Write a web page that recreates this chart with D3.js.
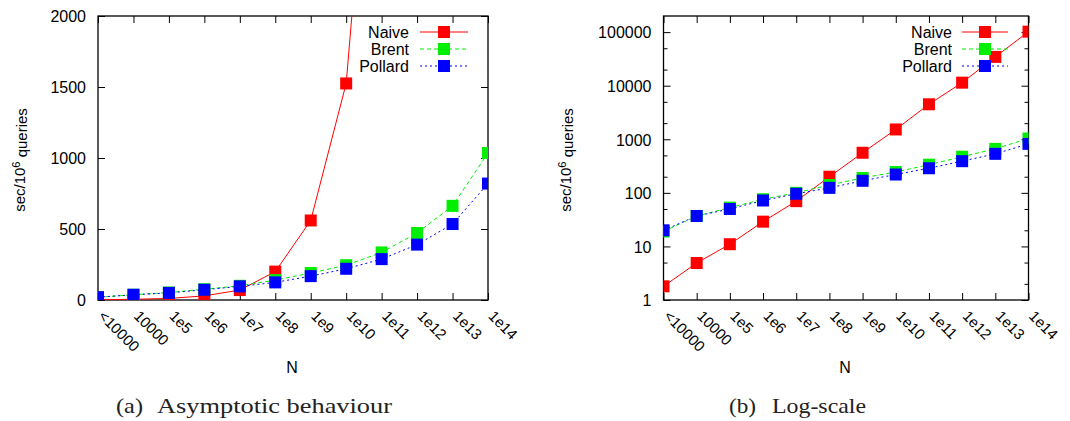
<!DOCTYPE html>
<html>
<head>
<meta charset="utf-8">
<script src="https://cdn.jsdelivr.net/npm/d3@7"></script>
<style>
  html, body { margin: 0; padding: 0; background: #fff; }
  svg { display: block; }
  text { font-family: "Liberation Sans", Arial, Helvetica, sans-serif; fill: #000; }
</style>
</head>
<body>
<svg id="chart" width="1070" height="421"></svg>
<script>
// ---- data ----
const categories = ["<10000", "10000", "1e5", "1e6", "1e7", "1e8", "1e9", "1e10", "1e11", "1e12", "1e13", "1e14"];
const naive   = [1.8, 4.9, 11, 29, 70, 200, 560, 1525, 4500, 11400, 34500, 102000];
const brent   = [19, 37, 53, 76, 100, 140, 190, 245, 335, 472, 663, 1035];
const pollard = [20, 37, 50, 72, 96, 124, 168, 220, 288, 390, 535, 820];
const seriesNames = ["Naive", "Brent", "Pollard"];
const linearTicks = [0, 500, 1000, 1500, 2000];
const logTicks = [1, 10, 100, 1000, 10000, 100000];
const logMinorTicks = [2, 5, 20, 50, 200, 500, 2000, 5000, 20000, 50000];
const captionsTag = ["(a)", "(b)"];
const captionsText = ["Asymptotic behaviour", "Log-scale"];

const series = [
  { name: seriesNames[0], values: naive,   color: "#ff0000", dash: null },
  { name: seriesNames[1], values: brent,   color: "#00ee00", dash: "4,3" },
  { name: seriesNames[2], values: pollard, color: "#0000ff", dash: "2,3" }
];

const svg = d3.select("#chart");
const yTop = 16, yBot = 300;

const panels = [
  { id: "a", x0: 98, x1: 488, log: false, ylabX: 25, legendTextX: 409, legendL: 420, legendR: 468,
    capTagX: 116, capTextX: 157, capTextW: 235 },
  { id: "b", x0: 663.5, x1: 1028.5, log: true, ylabX: 571, legendTextX: 952, legendL: 962, legendR: 1008,
    capTagX: 729, capTextX: 772, capTextW: 94 }
];

panels.forEach((p, pi) => {
  const x = d3.scalePoint().domain(categories).range([p.x0, p.x1]);
  const y = p.log
    ? d3.scaleLog().domain([1, 200000]).range([yBot, yTop])
    : d3.scaleLinear().domain([0, 2000]).range([yBot, yTop]);

  const g = svg.append("g");

  // clip
  svg.append("clipPath").attr("id", "clip" + p.id)
    .append("rect").attr("x", p.x0).attr("y", yTop).attr("width", p.x1 - p.x0).attr("height", yBot - yTop);

  // axes
  const yTicks = p.log ? logTicks : linearTicks;
  const fmt = d => String(d);
  const left = g.append("g").attr("transform", `translate(${p.x0},0)`)
    .call(d3.axisLeft(y).tickValues(yTicks).tickFormat(fmt).tickSizeInner(-7).tickSizeOuter(0).tickPadding(12));
  left.selectAll("text").style("font-size", "16px").attr("dy", "0.36em");
  g.append("g").attr("transform", `translate(${p.x1},0)`)
    .call(d3.axisRight(y).tickValues(yTicks).tickFormat("").tickSizeInner(-7).tickSizeOuter(0));
  if (p.log) {
    g.append("g").attr("transform", `translate(${p.x0},0)`)
      .call(d3.axisLeft(y).tickValues(logMinorTicks).tickFormat("").tickSizeInner(-4).tickSizeOuter(0));
    g.append("g").attr("transform", `translate(${p.x1},0)`)
      .call(d3.axisRight(y).tickValues(logMinorTicks).tickFormat("").tickSizeInner(-4).tickSizeOuter(0));
  }
  const bot = g.append("g").attr("transform", `translate(0,${yBot})`)
    .call(d3.axisBottom(x).tickSizeInner(-7).tickSizeOuter(0));
  bot.selectAll("text")
    .attr("y", null).attr("dy", null)
    .attr("text-anchor", "start")
    .style("font-size", "15px")
    .attr("transform", "translate(-1,17) rotate(45)");
  g.append("g").attr("transform", `translate(0,${yTop})`)
    .call(d3.axisTop(x).tickFormat("").tickSizeInner(-7).tickSizeOuter(0));
  g.selectAll(".domain").remove();
  g.selectAll(".tick line").attr("stroke", "#000").attr("stroke-width", 1);

  // frame
  g.append("rect").attr("x", p.x0).attr("y", yTop).attr("width", p.x1 - p.x0).attr("height", yBot - yTop)
    .attr("fill", "none").attr("stroke", "#000").attr("stroke-width", 1.3);

  // axis titles
  const yl = g.append("text")
    .attr("transform", `translate(${p.ylabX},${(yTop + yBot) / 2 + 2}) rotate(-90)`)
    .attr("text-anchor", "middle").style("font-size", "15px");
  yl.append("tspan").text("sec/10");
  yl.append("tspan").attr("dy", "-0.45em").style("font-size", "11px").text("6");
  yl.append("tspan").attr("dy", "0.45em").text(" queries");

  g.append("text").attr("x", (p.x0 + p.x1) / 2 - 1).attr("y", 373)
    .attr("text-anchor", "middle").style("font-size", "16px").text("N");

  // series with legend (gnuplot order: key sample then data)
  const line = d3.line().x((d, i) => x(categories[i])).y(d => y(d));
  const ms = 12;
  series.forEach((s, si) => {
    const ly = 32 + si * 17;
    const kg = g.append("g");
    kg.append("text").attr("x", p.legendTextX).attr("y", ly).attr("dy", "0.36em")
      .attr("text-anchor", "end").style("font-size", "16px").text(s.name);
    kg.append("line").attr("x1", p.legendL).attr("x2", p.legendR).attr("y1", ly).attr("y2", ly)
      .attr("stroke", s.color).attr("stroke-width", 1).attr("stroke-dasharray", s.dash);
    const mx = (p.legendL + p.legendR) / 2;
    kg.append("rect").attr("x", mx - ms / 2).attr("y", ly - ms / 2).attr("width", ms).attr("height", ms)
      .attr("fill", s.color);

    const dg = g.append("g").attr("clip-path", `url(#clip${p.id})`);
    dg.append("path").datum(s.values).attr("d", line)
      .attr("fill", "none").attr("stroke", s.color).attr("stroke-width", 1)
      .attr("stroke-dasharray", s.dash);
    dg.selectAll("rect.pt").data(s.values).join("rect").attr("class", "pt")
      .attr("x", (d, i) => x(categories[i]) - ms / 2)
      .attr("y", d => y(d) - ms / 2)
      .attr("width", ms).attr("height", ms)
      .attr("fill", s.color);
  });

  // caption
  svg.append("text").attr("x", p.capTagX).attr("y", 413)
    .style("font-family", "'Liberation Serif', 'Times New Roman', serif")
    .style("font-size", "22px").style("fill", "#222")
    .attr("textLength", 27).attr("lengthAdjust", "spacingAndGlyphs")
    .text(captionsTag[pi]);
  svg.append("text").attr("x", p.capTextX).attr("y", 413)
    .style("font-family", "'Liberation Serif', 'Times New Roman', serif")
    .style("font-size", "22px").style("fill", "#222")
    .attr("textLength", p.capTextW).attr("lengthAdjust", "spacingAndGlyphs")
    .text(captionsText[pi]);
});
</script>
</body>
</html>
